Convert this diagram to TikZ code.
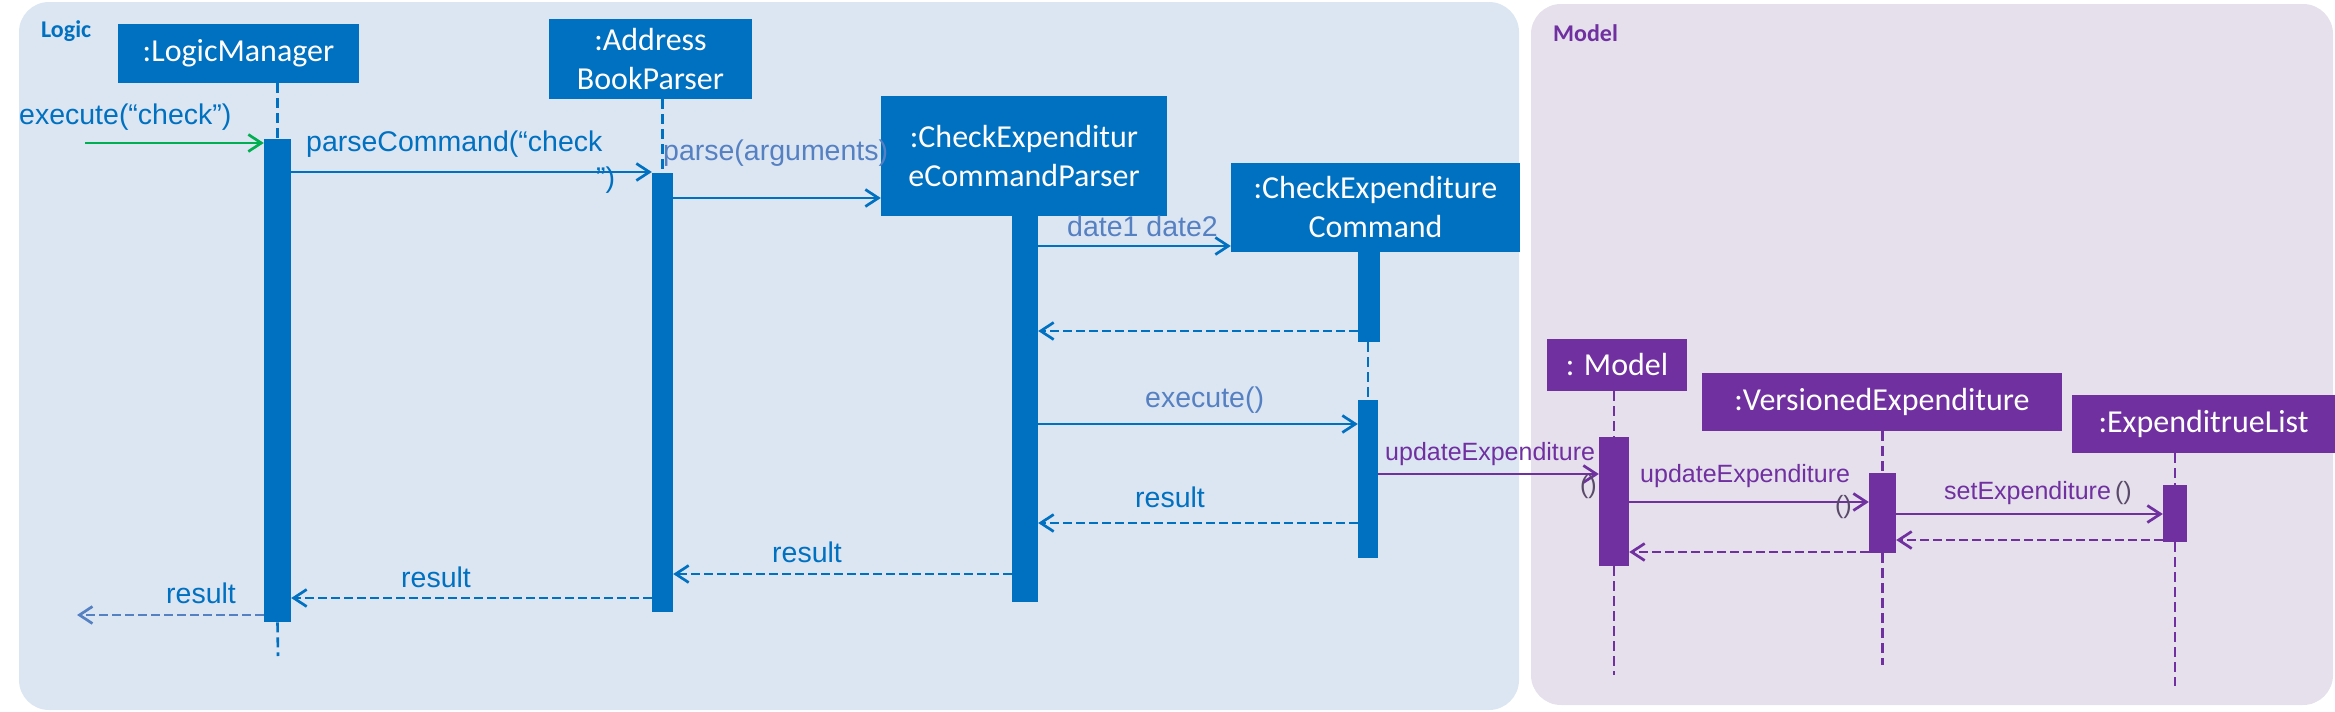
\documentclass[tikz,border=0pt]{standalone}
\usepackage{fontspec}
\setmainfont{Liberation Sans}
\newfontfamily\boxfont{Carlito}
\usetikzlibrary{arrows.meta}
\definecolor{ublue}{HTML}{0070C0}
\definecolor{upurple}{HTML}{7030A0}
\definecolor{ugreen}{HTML}{00B050}
\definecolor{ugray}{HTML}{5580C2}
\definecolor{logicbg}{HTML}{DCE6F2}
\definecolor{modelbg}{HTML}{E5E0EC}
\definecolor{pgray}{HTML}{5A4A6A}
\begin{document}
\begin{tikzpicture}[x=1pt,y=-1pt,
  objbox/.style={fill=#1, text=white, inner sep=0pt, align=center,
    font={\boxfont\fontsize{32}{39}\selectfont}},
  actbar/.style={fill=#1, inner sep=0pt, anchor=north},
  lifeline/.style={draw=#1, line width=2.6pt, dash pattern=on 10pt off 5pt},
  msg/.style={draw=#1, line width=2.7pt, -{Straight Barb[length=13pt,width=17pt,line width=2.7pt]}},
  ret/.style={draw=#1, line width=2.7pt, dash pattern=on 9pt off 4pt, -{Straight Barb[length=13pt,width=17pt,line width=2.7pt]}},
  lbl/.style={inner sep=0pt, anchor=west, text=#1, font={\fontsize{28.5}{32}\selectfont}},
  plbl/.style={inner sep=0pt, anchor=west, text=#1, font={\fontsize{25}{28}\selectfont}},
  paneltitle/.style={inner sep=0pt, anchor=west, text=#1, font={\boxfont\bfseries\fontsize{24}{28}\selectfont}}
]
\useasboundingbox (0,0) rectangle (2335,712);
% panels
\fill[logicbg, rounded corners=30pt] (19,2) rectangle (1519,710);
\fill[modelbg, rounded corners=30pt] (1531,4) rectangle (2333,705);
\node[paneltitle=ublue] (logicT) at (41,31) {Logic};
\node[paneltitle=upurple] (modelT) at (1553,33) {Model};

% object boxes
\node[objbox=ublue, minimum width=241pt, minimum height=59pt] (lm) at (238.5,53.5) {:LogicManager};
\node[objbox=ublue, minimum width=203pt, minimum height=80pt] (abp) at (650.5,59) {:Address\\BookParser};
\node[objbox=ublue, minimum width=286pt, minimum height=120pt] (cecp) at (1024,156) {:CheckExpenditur\\eCommandParser};
\node[objbox=ublue, minimum width=289pt, minimum height=89pt] (cec) at (1375.5,207.5) {:CheckExpenditure\\Command};
\node[objbox=upurple, minimum width=140pt, minimum height=52pt] (mod) at (1617,365) {: Model};
\node[objbox=upurple, minimum width=360pt, minimum height=58pt] (ve) at (1882,402) {:VersionedExpenditure};
\node[objbox=upurple, minimum width=263pt, minimum height=58pt] (el) at (2203.5,424) {:ExpenditrueList};

% activation bars
\node[actbar=ublue, minimum width=27pt, minimum height=483pt] (lmA) at (277.5,139) {};
\node[actbar=ublue, minimum width=21pt, minimum height=439pt] (abpA) at (662.5,173) {};
\node[actbar=ublue, minimum width=26pt, minimum height=386pt] (cecpA) at (1025,216) {};
\node[actbar=ublue, minimum width=22pt, minimum height=90pt] (cecA1) at (1369,252) {};
\node[actbar=ublue, minimum width=20pt, minimum height=158pt] (cecA2) at (1368,400) {};
\node[actbar=upurple, minimum width=30pt, minimum height=129pt] (modA) at (1614,437) {};
\node[actbar=upurple, minimum width=27pt, minimum height=80pt] (veA) at (1882.5,473) {};
\node[actbar=upurple, minimum width=24pt, minimum height=57pt] (elA) at (2175,485) {};

% lifelines
\coordinate (lmEnd) at (278,656);
\coordinate (modEnd) at (1614,675);
\coordinate (veEnd) at (1882.5,665);
\coordinate (elEnd) at (2175,686);
\draw[lifeline=ublue] (lmA.north |- lm.south) -- (lmA.north);
\draw[lifeline=ublue] (lmA.south) -- (lmEnd);
\draw[lifeline=ublue] (abpA.north |- abp.south) -- (abpA.north);
\draw[lifeline=ublue] (cecA2.north |- cecA1.south) -- (cecA2.north);
\draw[lifeline=upurple] (modA.north |- mod.south) -- (modA.north);
\draw[lifeline=upurple] (modA.south) -- (modEnd);
\draw[lifeline=upurple] (veA.north |- ve.south) -- (veA.north);
\draw[lifeline=upurple] (veA.south) -- (veEnd);
\draw[lifeline=upurple] (elA.north |- el.south) -- (elA.north);
\draw[lifeline=upurple] (elA.south) -- (elEnd);

% messages
\coordinate (inStart) at (85,143);
\coordinate (outEnd) at (77,615);
\draw[msg=ugreen] (inStart) -- (lmA.west |- inStart);
\node[lbl=ublue] (l1) at (19,117) {execute(“check”)};

\draw[msg=ublue] (lmA.east |- 0,172) -- (abpA.west |- 0,172);
\node[lbl=ublue] (l2) at (306,144) {parseCommand(“check};
\node[lbl=ublue] (l2b) at (596,180) {”)};

\draw[msg=ublue] (abpA.east |- 0,198) -- (cecp.west |- 0,198);
\node[lbl=ugray] (l3) at (663,153) {parse(arguments)};

\draw[msg=ublue] (cecpA.east |- 0,246) -- (cec.west |- 0,246);
\node[lbl=ugray] (l4) at (1067,226) {date1 date2};

\draw[ret=ublue] (cecA1.west |- 0,331) -- (cecpA.east |- 0,331);

\draw[msg=ublue] (cecpA.east |- 0,424) -- (cecA2.west |- 0,424);
\node[lbl=ugray] (l5) at (1145,400) {execute()};

\draw[msg=upurple] (cecA2.east |- 0,474) -- (modA.west |- 0,474);
\node[plbl=upurple] (l6) at (1385,454) {updateExpenditure};
\node[plbl=pgray, anchor=east] (l6b) at (1597,487) {()};

\draw[msg=upurple] (modA.east |- 0,502) -- (veA.west |- 0,502);
\node[plbl=upurple] (l7) at (1640,476) {updateExpenditure};
\node[plbl=pgray, anchor=east] (l7b) at (1852,507) {()};

\draw[msg=upurple] (veA.east |- 0,514) -- (elA.west |- 0,514);
\node[plbl=upurple] (l8) at (1944,493) {setExpenditure\,\textcolor{pgray}{()}};

\draw[ret=upurple] (elA.west |- 0,540) -- (veA.east |- 0,540);
\draw[ret=upurple] (veA.west |- 0,552) -- (modA.east |- 0,552);

\draw[ret=ublue] (cecA2.west |- 0,523) -- (cecpA.east |- 0,523);
\node[lbl=ublue] (r1) at (1135,497) {result};

\draw[ret=ublue] (cecpA.west |- 0,574) -- (abpA.east |- 0,574);
\node[lbl=ublue] (r2) at (772,552) {result};

\draw[ret=ublue] (abpA.west |- 0,598) -- (lmA.east |- 0,598);
\node[lbl=ublue] (r3) at (401,577) {result};

\draw[ret=ugray] (lmA.west |- outEnd) -- (outEnd);
\node[lbl=ublue] (r4) at (166,593) {result};
\end{tikzpicture}
\end{document}
